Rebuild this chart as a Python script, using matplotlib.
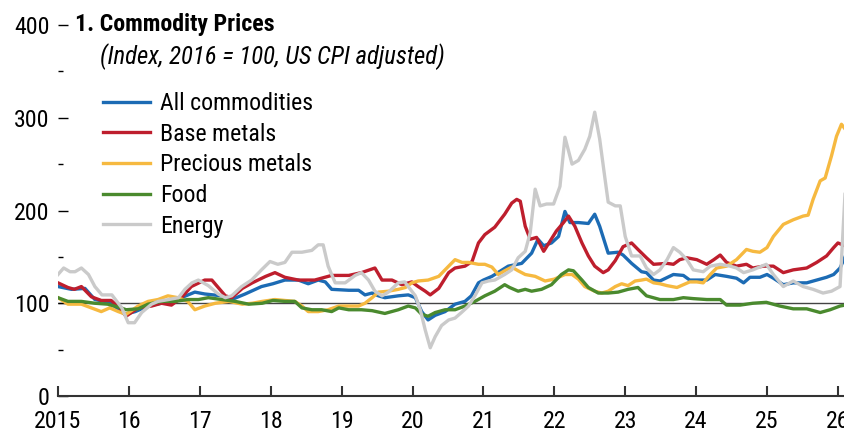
import matplotlib
matplotlib.use("Agg")
import matplotlib.pyplot as plt
from matplotlib import font_manager

# narrow font close to the original, with fallbacks
names = set(f.name for f in font_manager.fontManager.ttflist)
FONT = "Liberation Sans"
for cand in ["Roboto Condensed", "Asap Condensed", "Archivo Narrow"]:
    if cand in names:
        FONT = cand
        break
plt.rcParams["font.family"] = [FONT, "DejaVu Sans"]

# ---- data (index, 2016 = 100) ----
all_t = [2015.0, 2015.19, 2015.38, 2015.52, 2015.73, 2015.94, 2016.09, 2016.27, 2016.51, 2016.74,
         2016.93, 2017.07, 2017.31, 2017.45, 2017.64, 2017.87, 2018.03, 2018.2, 2018.39, 2018.53,
         2018.67, 2018.77, 2018.86, 2019.1, 2019.24, 2019.33, 2019.43, 2019.52, 2019.61, 2019.8,
         2019.94, 2020.04, 2020.13, 2020.22, 2020.32, 2020.46, 2020.6, 2020.74, 2020.83, 2020.93,
         2021.0, 2021.12, 2021.35, 2021.54, 2021.68, 2021.77, 2021.85, 2021.96, 2022.06, 2022.15,
         2022.22, 2022.34, 2022.48, 2022.57, 2022.64, 2022.76, 2022.9, 2022.97, 2023.09, 2023.23,
         2023.3, 2023.4, 2023.49, 2023.68, 2023.82, 2023.91, 2024.15, 2024.27, 2024.43, 2024.57,
         2024.67, 2024.76, 2024.9, 2025.0, 2025.09, 2025.23, 2025.37, 2025.56, 2025.7, 2025.84,
         2025.94, 2026.03, 2026.1]
all_v = [118, 115, 116, 104, 101, 88, 91, 97, 101, 106,
         112, 110, 108, 104, 110, 118, 121, 125, 125, 121,
         125, 123, 115, 114, 114, 109, 111, 108, 106, 108,
         109, 106, 91, 82, 87, 91, 99, 102, 108, 122,
         125, 129, 140, 143, 154, 169, 162, 165, 172, 199,
         187, 187, 186, 196, 183, 154, 155, 152, 143, 134,
         133, 125, 124, 131, 130, 125, 125, 131, 129, 127,
         122, 128, 128, 131, 127, 120, 122, 122, 125, 128,
         131, 138, 150]

base_t = [2015.0, 2015.14, 2015.23, 2015.33, 2015.47, 2015.61, 2015.75, 2015.87, 2015.96, 2016.13,
          2016.32, 2016.46, 2016.6, 2016.74, 2016.88, 2017.07, 2017.17, 2017.36, 2017.45, 2017.6,
          2017.74, 2017.93, 2018.06, 2018.2, 2018.39, 2018.62, 2018.86, 2019.1, 2019.28, 2019.47,
          2019.57, 2019.71, 2019.85, 2019.99, 2020.08, 2020.18, 2020.25, 2020.37, 2020.51, 2020.6,
          2020.74, 2020.84, 2020.93, 2021.02, 2021.16, 2021.3, 2021.4, 2021.47, 2021.52, 2021.59,
          2021.66, 2021.75, 2021.85, 2021.94, 2022.03, 2022.13, 2022.2, 2022.29, 2022.39, 2022.48,
          2022.57, 2022.69, 2022.76, 2022.86, 2022.97, 2023.09, 2023.18, 2023.3, 2023.4, 2023.59,
          2023.68, 2023.77, 2023.87, 2024.01, 2024.15, 2024.25, 2024.34, 2024.43, 2024.57, 2024.71,
          2024.8, 2024.95, 2025.09, 2025.23, 2025.37, 2025.56, 2025.7, 2025.84, 2025.94, 2026.0,
          2026.1]
base_v = [122, 117, 115, 118, 107, 103, 103, 95, 86, 95,
          97, 100, 98, 106, 118, 125, 125, 108, 106, 116,
          122, 129, 133, 128, 125, 125, 130, 130, 133, 138,
          125, 125, 120, 123, 118, 113, 109, 116, 133, 138,
          140, 145, 165, 174, 182, 196, 208, 212, 210, 183,
          169, 171, 156, 167, 178, 187, 194, 183, 165, 151,
          140, 133, 136, 146, 161, 165, 158, 149, 142, 143,
          142, 147, 149, 147, 142, 147, 152, 144, 140, 142,
          138, 140, 140, 133, 136, 138, 144, 151, 160, 165,
          162]

prec_t = [2015.0, 2015.14, 2015.33, 2015.47, 2015.61, 2015.73, 2015.85, 2015.96, 2016.13, 2016.27,
          2016.41, 2016.55, 2016.69, 2016.83, 2016.93, 2017.07, 2017.22, 2017.41, 2017.6, 2017.74,
          2017.88, 2018.06, 2018.2, 2018.34, 2018.44, 2018.53, 2018.67, 2018.81, 2018.96, 2019.1,
          2019.24, 2019.33, 2019.43, 2019.52, 2019.66, 2019.8, 2019.9, 2019.99, 2020.08, 2020.22,
          2020.37, 2020.51, 2020.6, 2020.7, 2020.79, 2020.93, 2021.02, 2021.12, 2021.21, 2021.3,
          2021.4, 2021.49, 2021.59, 2021.73, 2021.87, 2022.0, 2022.15, 2022.25, 2022.34, 2022.43,
          2022.57, 2022.67, 2022.76, 2022.86, 2022.95, 2023.04, 2023.14, 2023.23, 2023.3, 2023.4,
          2023.49, 2023.59, 2023.73, 2023.82, 2023.91, 2024.01, 2024.1, 2024.2, 2024.29, 2024.43,
          2024.57, 2024.71, 2024.8, 2024.9, 2025.0, 2025.09, 2025.23, 2025.37, 2025.51, 2025.58,
          2025.65, 2025.75, 2025.82, 2025.91, 2025.98, 2026.05, 2026.1]
prec_v = [106, 99, 99, 95, 91, 95, 91, 88, 97, 102,
          104, 108, 106, 102, 93, 97, 100, 102, 99, 100,
          102, 104, 103, 102, 97, 91, 91, 93, 97, 97,
          97, 100, 106, 112, 113, 115, 117, 122, 124, 125,
          129, 140, 147, 144, 144, 142, 142, 139, 131, 135,
          139, 135, 131, 129, 124, 126, 131, 131, 126, 118,
          113, 111, 113, 118, 121, 119, 124, 125, 126, 122,
          121, 119, 117, 120, 123, 123, 122, 131, 138, 140,
          147, 158, 156, 155, 160, 172, 185, 190, 194, 195,
          212, 232, 235, 259, 280, 293, 288]

food_t = [2015.0, 2015.14, 2015.33, 2015.52, 2015.7, 2015.89, 2015.96, 2016.13, 2016.27, 2016.46,
          2016.65, 2016.83, 2016.98, 2017.12, 2017.31, 2017.5, 2017.69, 2017.88, 2018.03, 2018.2,
          2018.34, 2018.44, 2018.58, 2018.72, 2018.86, 2018.96, 2019.1, 2019.28, 2019.43, 2019.61,
          2019.8, 2019.94, 2020.04, 2020.13, 2020.22, 2020.32, 2020.46, 2020.6, 2020.74, 2020.88,
          2021.02, 2021.16, 2021.3, 2021.37, 2021.49, 2021.59, 2021.68, 2021.82, 2021.96, 2022.1,
          2022.2, 2022.27, 2022.39, 2022.48, 2022.62, 2022.76, 2022.9, 2023.04, 2023.18, 2023.3,
          2023.49, 2023.68, 2023.82, 2023.96, 2024.15, 2024.34, 2024.43, 2024.62, 2024.8, 2024.99,
          2025.18, 2025.37, 2025.56, 2025.75, 2025.89, 2026.03, 2026.1]
food_v = [106, 102, 102, 100, 99, 95, 93, 94, 99, 102,
          102, 104, 104, 106, 104, 102, 99, 100, 103, 102,
          102, 95, 93, 93, 91, 95, 93, 93, 92, 89,
          93, 97, 95, 88, 86, 90, 93, 93, 97, 102,
          108, 113, 120, 117, 113, 115, 113, 115, 120, 131,
          136, 135, 125, 117, 111, 111, 112, 115, 117, 108,
          104, 104, 106, 105, 104, 104, 98, 98, 100, 101,
          97, 94, 94, 90, 93, 97, 98]

energy_t = [2015.0, 2015.08, 2015.17, 2015.24, 2015.33, 2015.43, 2015.52, 2015.62, 2015.76, 2015.9,
            2015.99, 2016.08, 2016.18, 2016.32, 2016.41, 2016.56, 2016.7, 2016.79, 2016.89, 2016.98,
            2017.12, 2017.26, 2017.36, 2017.45, 2017.59, 2017.73, 2017.87, 2017.99, 2018.1, 2018.2,
            2018.3, 2018.44, 2018.58, 2018.67, 2018.74, 2018.81, 2018.91, 2019.05, 2019.19, 2019.28,
            2019.38, 2019.47, 2019.57, 2019.66, 2019.8, 2019.89, 2020.04, 2020.11, 2020.18, 2020.25,
            2020.32, 2020.41, 2020.51, 2020.6, 2020.69, 2020.79, 2020.88, 2020.98, 2021.07, 2021.16,
            2021.3, 2021.4, 2021.49, 2021.59, 2021.66, 2021.73, 2021.8, 2021.89, 2021.99, 2022.08,
            2022.15, 2022.25, 2022.34, 2022.43, 2022.5, 2022.57, 2022.64, 2022.71, 2022.76, 2022.86,
            2022.93, 2023.0, 2023.09, 2023.21, 2023.3, 2023.4, 2023.49, 2023.59, 2023.68, 2023.77,
            2023.87, 2023.96, 2024.1, 2024.2, 2024.34, 2024.48, 2024.57, 2024.67, 2024.8, 2024.99,
            2025.09, 2025.23, 2025.37, 2025.51, 2025.65, 2025.79, 2025.91, 2026.03, 2026.13]
energy_v = [131, 138, 134, 134, 138, 131, 118, 109, 109, 95,
            79, 79, 90, 99, 102, 104, 106, 115, 122, 125,
            119, 110, 106, 108, 118, 125, 136, 145, 142, 144,
            155, 155, 157, 163, 163, 140, 122, 122, 130, 133,
            125, 113, 108, 112, 122, 123, 108, 93, 71, 52,
            64, 76, 82, 84, 90, 97, 108, 122, 124, 125,
            131, 136, 149, 156, 176, 223, 205, 207, 207, 226,
            279, 250, 254, 266, 280, 306, 277, 237, 209, 205,
            205, 172, 151, 151, 138, 131, 136, 147, 160, 155,
            147, 136, 134, 140, 142, 140, 138, 133, 136, 142,
            131, 118, 124, 118, 115, 111, 113, 118, 260]

series_names = ["All commodities", "Base metals", "Precious metals", "Food", "Energy"]
series_colors = ["#1C6BB4", "#BE1E2D", "#F6B940", "#4A8A2E", "#CACACA"]

year_ticks = list(range(2015, 2027))
year_labels = ["2015"] + [str(y - 2000) for y in year_ticks[1:]]
y_major = [0, 100, 200, 300, 400]
y_minor = [50, 150, 250, 350]

W, H = 845, 434
fig = plt.figure(figsize=(W / 100, H / 100), dpi=100)

# size the font so "All commodities" is as wide as in the original (~153 px)
probe = fig.text(0, 0, "All commodities", fontsize=15)
w15 = probe.get_window_extent(renderer=fig.canvas.get_renderer()).width
probe.remove()
FS = 15 * 153 / w15
pt = 72 / 100  # points per pixel

ax = fig.add_axes([58 / W, 1 - 396 / H, 1 - 58 / W, (396 - 25) / H])

ax.axhline(100, color="#444444", lw=1.0, zorder=1)
for t, v, name, c in zip([all_t, base_t, prec_t, food_t, energy_t],
                         [all_v, base_v, prec_v, food_v, energy_v],
                         series_names, series_colors):
    ax.plot(t, v, color=c, lw=2.4, label=name, solid_joinstyle="round", zorder=2)

ax.set_xlim(2015, 2026.1)
ax.set_ylim(0, 400)

for s in ["top", "right", "left"]:
    ax.spines[s].set_visible(False)
ax.spines["bottom"].set_color("#333333")
ax.spines["bottom"].set_linewidth(1.5)

ax.set_xticks(year_ticks)
ax.set_xticklabels(year_labels)
ax.tick_params(axis="x", direction="in", length=7, width=1.5, color="#333333",
               labelsize=FS, pad=10)

ax.set_yticks(y_major)
ax.set_yticklabels([str(v) for v in y_major])
ax.set_yticks(y_minor, minor=True)
ax.tick_params(axis="y", which="major", direction="in", length=7, width=1.0,
               labelsize=FS, pad=6)
ax.tick_params(axis="y", which="minor", direction="in", length=3.5, width=1.0)

fig.text(75 / W, 1 - 25 / H, "1. Commodity Prices", fontsize=FS, fontweight="bold",
         ha="left", va="center")
fig.text(100 / W, 1 - 57 / H, "(Index, 2016 = 100, US CPI adjusted)", fontsize=FS * 1.04,
         fontstyle="italic", ha="left", va="center")

ax.legend(loc="upper left", bbox_to_anchor=(103 / W, 1 - 92 / H), bbox_transform=fig.transFigure,
          frameon=False, fontsize=FS, handlelength=47 * pt / FS, handletextpad=10 * pt / FS,
          labelspacing=0.32, borderaxespad=0, borderpad=0)

fig.savefig("out.png", dpi=100)
